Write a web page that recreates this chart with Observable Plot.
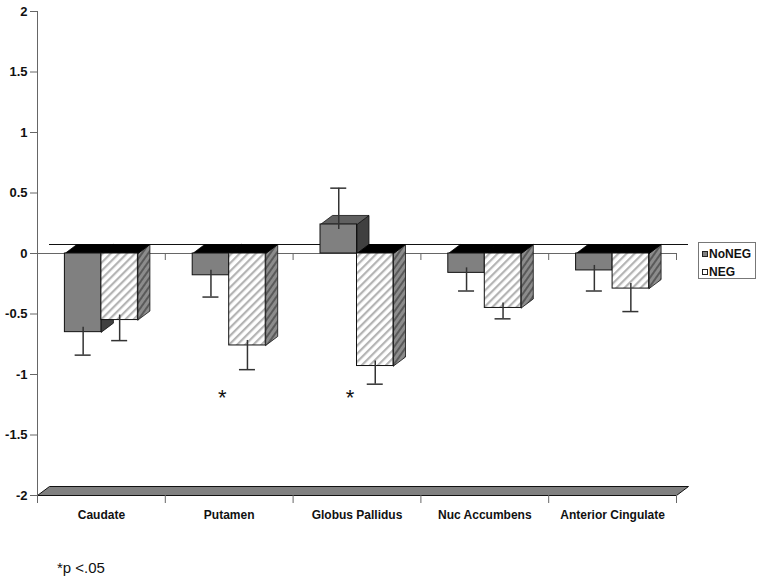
<!DOCTYPE html>
<html>
<head>
<meta charset="utf-8">
<script src="https://cdn.jsdelivr.net/npm/d3@7"></script>
<script src="https://cdn.jsdelivr.net/npm/@observablehq/plot@0.6"></script>
<style>
  body { margin: 0; background: #fff; font-family: "Liberation Sans", Arial, sans-serif; }
  #wrap { position: relative; width: 763px; height: 587px; }
  #legend { position: absolute; left: 698px; top: 242px; width: 58px; height: 37px; border: 1px solid #777; background: #fff; box-sizing: border-box; }
  .item { position: absolute; left: 3px; font: bold 12px "Liberation Sans", Arial, sans-serif; color: #111; line-height: 12px; white-space: nowrap; }
  .sw { display: inline-block; width: 6px; height: 6px; border: 1px solid #222; margin-right: 1px; vertical-align: 1px; box-sizing: border-box; }
  #note { position: absolute; left: 57px; top: 559px; font: 15px "Liberation Sans", Arial, sans-serif; color: #111; }
</style>
</head>
<body>
<div id="wrap"></div>
<script>
// ---- data ----
const regions = ["Caudate", "Putamen", "Globus Pallidus", "Nuc Accumbens", "Anterior Cingulate"];
const seriesNames = ["NoNEG", "NEG"];
const noNegMean = [-0.65, -0.18, 0.24, -0.16, -0.14];
const noNegErr  = [0.19, 0.18, 0.30, 0.15, 0.17];
const negMean   = [-0.55, -0.76, -0.93, -0.45, -0.29];
const negErr    = [0.17, 0.20, 0.15, 0.09, 0.19];
const significant = ["Putamen", "Globus Pallidus"];
const yTicks = [-2, -1.5, -1, -0.5, 0, 0.5, 1, 1.5, 2];
const footnote = "*p <.05";

// ---- layout ----
const W = 763, H = 540, ML = 37, MR = 87, MT = 11, MB = 45;
const kx = regions.length / (W - ML - MR);   // data units per px (x)
const ky = 4 / (H - MT - MB);                // data units per px (y)
const BW = 36.5 * kx, DX = 12 * kx, DY = 9 * ky;
const N = regions.length;

const rows = [];
regions.forEach((r, i) => {
  [[noNegMean, noNegErr], [negMean, negErr]].forEach(([m, e], k) => {
    const x0 = i + 0.5 + (k - 1) * BW;
    rows.push({region: r, series: seriesNames[k], k, mean: m[i], err: e[i], x0, x1: x0 + BW, xc: x0 + BW / 2});
  });
});

function polyPts(id, pts) {
  return pts.concat([pts[0]]).map(([x, y]) => ({id, x, y}));
}
const sideNoNeg = [], sideNeg = [], topBlack = [], topGray = [];
rows.forEach((d, j) => {
  const side = polyPts("s" + j, [[d.x1, d.mean], [d.x1 + DX, d.mean + DY], [d.x1 + DX, DY], [d.x1, 0]]);
  (d.k === 0 ? sideNoNeg : sideNeg).push(...side);
  if (d.mean < 0) {
    topBlack.push(...polyPts("t" + j, [[d.x0, 0], [d.x1, 0], [d.x1 + DX, DY], [d.x0 + DX, DY]]));
  } else {
    topGray.push(...polyPts("t" + j, [[d.x0, d.mean], [d.x1, d.mean], [d.x1 + DX, d.mean + DY], [d.x0 + DX, d.mean + DY]]));
  }
});
const floor = polyPts("floor", [[0, -2], [N, -2], [N + DX, -2 + DY], [DX, -2 + DY]]);
const bounds = d3.range(N + 1);
const centers = regions.map((r, i) => i + 0.5);
const dir = d => (d.mean >= 0 ? 1 : -1);

const chart = Plot.plot({
  width: W, height: H,
  marginLeft: ML, marginRight: MR, marginTop: MT, marginBottom: MB,
  x: {domain: [0, N]},
  y: {domain: [-2, 2]},
  style: {fontFamily: "'Liberation Sans', Arial, sans-serif", color: "#111", background: "#fff"},
  marks: [
    Plot.line(floor, {x: "x", y: "y", z: "id", fill: "#808080", stroke: "#111", strokeWidth: 1}),
    Plot.ruleY([DY], {x1: DX, x2: N + DX, stroke: "#111", strokeWidth: 1}),
    Plot.ruleY([0], {x1: 0, x2: N, stroke: "#666", strokeWidth: 1}),
    Plot.ruleX(bounds.slice(1), {y1: 0, y2: -7 * ky, stroke: "#666", strokeWidth: 1}),
    Plot.ruleX(bounds, {y1: -2, y2: -2 - 8 * ky, stroke: "#666", strokeWidth: 1}),
    Plot.ruleX([0], {y1: -2, y2: 2, stroke: "#666", strokeWidth: 1}),
    Plot.line(sideNoNeg, {x: "x", y: "y", z: "id", fill: "#404040", stroke: "#111", strokeWidth: 0.8}),
    Plot.line(sideNeg, {x: "x", y: "y", z: "id", fill: "url(#hatchDark)", stroke: "#111", strokeWidth: 0.8}),
    Plot.line(topBlack, {x: "x", y: "y", z: "id", fill: "#000", stroke: "#000", strokeWidth: 0.8}),
    Plot.line(topGray, {x: "x", y: "y", z: "id", fill: "#606060", stroke: "#111", strokeWidth: 0.8}),
    Plot.rect(rows.filter(d => d.k === 0), {x1: "x0", x2: "x1", y1: 0, y2: "mean", fill: "#808080", stroke: "#111", strokeWidth: 1}),
    Plot.rect(rows.filter(d => d.k === 1), {x1: "x0", x2: "x1", y1: 0, y2: "mean", fill: "url(#hatch)", stroke: "#111", strokeWidth: 1}),
    Plot.ruleX(rows, {x: "xc", y1: d => d.mean - dir(d) * 5 * ky, y2: d => d.mean + dir(d) * d.err, stroke: "#333", strokeWidth: 1.5}),
    Plot.ruleY(rows, {y: d => d.mean + dir(d) * d.err, x1: d => d.xc - 8 * kx, x2: d => d.xc + 8 * kx, stroke: "#333", strokeWidth: 1.5}),
    Plot.text(significant, {x: d => regions.indexOf(d) + 0.5, y: -1.17, text: () => "*", dx: -7, dy: 3, fontSize: 22, fill: "#111"}),
    Plot.axisY(yTicks, {tickSize: 7, tickPadding: 3, fontSize: 13, fontWeight: "bold", stroke: "#666", tickFormat: d => String(d), label: null}),
    Plot.axisX(centers, {anchor: "bottom", tickSize: 0, tickPadding: 15, fontSize: 12, fontWeight: "bold", tickFormat: d => regions[Math.round(d - 0.5)], label: null})
  ]
});

const svgNS = "http://www.w3.org/2000/svg";
const defs = document.createElementNS(svgNS, "defs");
defs.innerHTML = `
  <pattern id="hatch" patternUnits="userSpaceOnUse" width="5.7" height="5.7" patternTransform="rotate(45)">
    <rect width="5.7" height="5.7" fill="#ffffff"/>
    <rect width="2.2" height="5.7" fill="#b4b4b4"/>
  </pattern>
  <pattern id="hatchDark" patternUnits="userSpaceOnUse" width="5" height="5" patternTransform="rotate(35)">
    <rect width="5" height="5" fill="#8c8c8c"/>
    <rect width="2" height="5" fill="#5a5a5a"/>
  </pattern>`;
chart.insertBefore(defs, chart.firstChild);

const wrap = document.getElementById("wrap");
wrap.appendChild(chart);

const legend = document.createElement("div");
legend.id = "legend";
const fills = ["#808080", "#ffffff"];
seriesNames.forEach((s, i) => {
  const it = document.createElement("div");
  it.className = "item";
  it.style.top = (5 + i * 18) + "px";
  it.innerHTML = `<span class="sw" style="background:${fills[i]}"></span>${s}`;
  legend.appendChild(it);
});
wrap.appendChild(legend);

const note = document.createElement("div");
note.id = "note";
note.textContent = footnote;
wrap.appendChild(note);
</script>
</body>
</html>
